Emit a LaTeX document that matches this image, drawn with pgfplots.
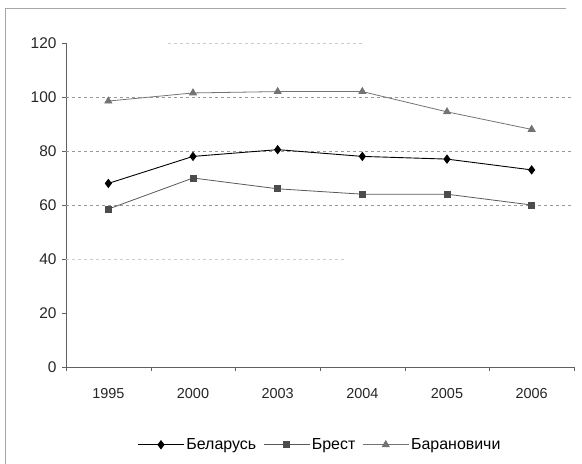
\documentclass[border=0pt]{standalone}
\usepackage{pgfplots}
\pgfplotsset{compat=1.18}
\usepackage{fontspec}
\setmainfont{Liberation Sans}
\begin{document}
\begin{tikzpicture}
\useasboundingbox (-66bp,-97bp) rectangle (516bp,367bp);
% scanned chart frame
\draw[gray!70, line width=0.8pt] (-61bp,-97bp) -- (-61bp,359bp) -- (500bp,359bp);
\begin{axis}[
    scale only axis,
    width=508bp, height=324bp,
    xmin=0, xmax=6, ymin=0, ymax=120,
    axis x line=bottom, axis y line=left,
    axis line style={-, gray!75!black},
    tick align=outside,
    xtick={0.5,1.5,2.5,3.5,4.5,5.5},
    xticklabels={1995,2000,2003,2004,2005,2006},
    major x tick style={draw=none},
    minor xtick={0,1,2,3,4,5,6},
    ytick={0,20,40,60,80,100,120},
    major tick length=4bp, minor tick length=4bp,
    tick style={gray!75!black},
    /pgf/number format/assume math mode=true,
    tick label style={text=black!85},
    xticklabel style={font=\fontsize{14.5}{16}\selectfont, yshift=-14bp},
    yticklabel style={font=\fontsize{15.5}{17}\selectfont, xshift=-2bp},
    legend style={at={(0.5,-0.24)}, anchor=center, draw=none,
        font=\fontsize{16}{18}\selectfont, legend columns=3,
        /tikz/every even column/.append style={column sep=5bp}},
    legend image code/.code={\draw[mark repeat=2,mark phase=2]
        plot coordinates {(0bp,0bp) (23bp,0bp) (46bp,0bp)};},
]
% grid lines as they survive in the scan
\draw[gray!80, dashed, line width=0.6pt] (axis cs:0,60) -- (axis cs:6,60);
\draw[gray!80, dashed, line width=0.6pt] (axis cs:0,80) -- (axis cs:6,80);
\draw[gray!80, dashed, line width=0.6pt] (axis cs:0,100) -- (axis cs:6,100);
\draw[gray!40, dashed, line width=0.5pt] (axis cs:0,40) -- (axis cs:3.3,40);
\draw[gray!40, dashed, line width=0.5pt] (axis cs:1.2,120) -- (axis cs:3.5,120);
\addplot[black, line width=0.9pt, mark=diamond*, mark size=4bp,
    mark options={fill=black}]
    coordinates {(0.5,68) (1.5,78) (2.5,80.5) (3.5,78) (4.5,77) (5.5,73)};
\addlegendentry{Беларусь}
\addplot[black!65, line width=0.8pt, mark=square*, mark size=3bp,
    mark options={fill=black!70, draw=black!70}]
    coordinates {(0.5,58.5) (1.5,70) (2.5,66) (3.5,64) (4.5,64) (5.5,60)};
\addlegendentry{Брест}
\addplot[black!55, line width=0.8pt, mark=triangle*, mark size=4bp,
    mark options={fill=black!55, draw=black!55}]
    coordinates {(0.5,98.5) (1.5,101.5) (2.5,102) (3.5,102) (4.5,94.5) (5.5,88)};
\addlegendentry{Барановичи}
\end{axis}
\end{tikzpicture}
\end{document}
